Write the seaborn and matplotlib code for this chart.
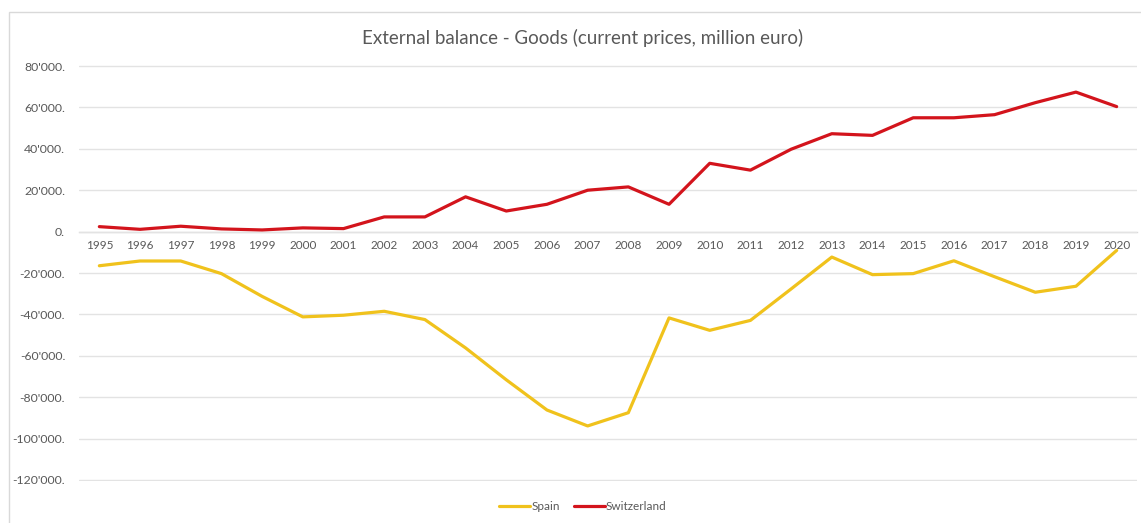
import matplotlib
matplotlib.use("Agg")
import matplotlib.pyplot as plt
from matplotlib.ticker import FuncFormatter, FixedLocator
from matplotlib.patches import Rectangle
import seaborn as sns
import pandas as pd

years = list(range(1995, 2021))
spain = [-16500, -14200, -14200, -20300, -31300, -41200, -40400, -38500, -42500,
         -56200, -71600, -86200, -93900, -87500, -41700, -47700, -42900, -27700,
         -12300, -20800, -20300, -14100, -21800, -29300, -26400, -9100]
switzerland = [2400, 1100, 2600, 1300, 800, 1800, 1450, 7100, 7100, 16800, 9950,
               13200, 20000, 21600, 13200, 33000, 29700, 39800, 47300, 46500,
               55000, 55000, 56500, 62300, 67400, 60400]
series_names = ["Spain", "Switzerland"]
y_ticks = list(range(-120000, 80001, 20000))

df = pd.DataFrame({
    "year": years * 2,
    "value": spain + switzerland,
    "country": ["Spain"] * len(years) + ["Switzerland"] * len(years),
})

sns.set_theme(style="white")
plt.rcParams["font.family"] = ["Lato", "DejaVu Sans"]

text_gray = "#595959"
grid_gray = "#e3e3e3"

fig = plt.figure(figsize=(11.41, 5.23), dpi=100)
ax = fig.add_axes([79 / 1141, 1 - 481 / 523, (1137 - 79) / 1141, (481 - 65) / 523])

# chart frame
fig.patches.append(Rectangle((9 / 1141, -0.05), 1.1, 1 - 12 / 523 + 0.05,
                             transform=fig.transFigure, fill=False,
                             edgecolor="#d9d9d9", linewidth=1.0, zorder=0))

palette = {"Spain": "#f0c21c", "Switzerland": "#d3141c"}
sns.lineplot(data=df, x="year", y="value", hue="country", hue_order=series_names,
             palette=palette, linewidth=2.3, ax=ax, legend=False)

ax.set_xlim(1994.5, 2020.5)
ax.set_ylim(-120500, 80500)
ax.yaxis.set_major_locator(FixedLocator(y_ticks))
ax.xaxis.set_major_locator(FixedLocator(years))


def fmt(v, _):
    v = int(round(v))
    s = f"{abs(v):,}".replace(",", "'")
    return ("-" if v < 0 else "") + s + "."


ax.yaxis.set_major_formatter(FuncFormatter(fmt))
ax.grid(axis="y", color=grid_gray, linewidth=1.0)
ax.set_axisbelow(True)
for side in ["left", "right", "top"]:
    ax.spines[side].set_visible(False)
ax.spines["bottom"].set_position(("data", 0))
ax.spines["bottom"].set_color("#d9d9d9")
ax.spines["bottom"].set_linewidth(1.0)
ax.spines["bottom"].set_zorder(0)

ax.tick_params(axis="y", length=0, pad=10, labelsize=8.8, labelcolor=text_gray)
ax.tick_params(axis="x", length=0, pad=6, labelsize=8.5, labelcolor=text_gray)
ax.set_xlabel("")
ax.set_ylabel("")

fig.text(583 / 1141, 1 - 38 / 523, "External balance - Goods (current prices, million euro)",
         ha="center", va="center", fontsize=13.5, color=text_gray)

handles = [plt.Line2D([], [], color=palette[n], linewidth=2.3) for n in series_names]
fig.legend(handles, series_names, loc="center", bbox_to_anchor=(583 / 1141, 1 - 507 / 523),
           ncol=2, frameon=False, fontsize=8.5, handlelength=2.6, handletextpad=0.1,
           columnspacing=1.2, labelcolor=text_gray)

fig.savefig("out.png", dpi=100, facecolor="white")
